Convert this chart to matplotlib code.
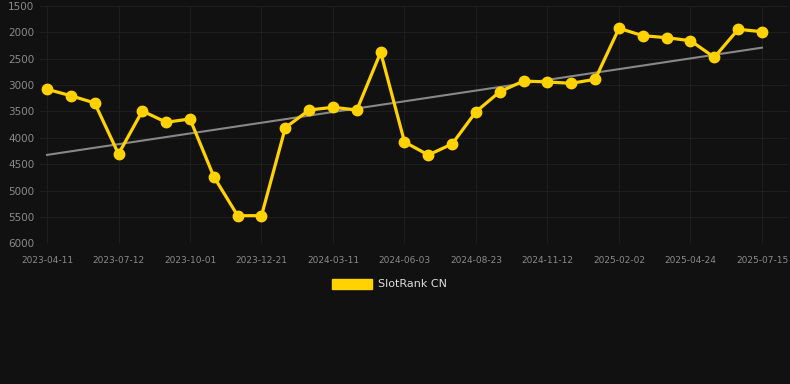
import numpy as np
import matplotlib
matplotlib.use('Agg')
import matplotlib.pyplot as plt
from matplotlib.patches import Patch

# data (rank, lower is better)
dates = ['2023-04-11', '2023-05-12', '2023-06-11', '2023-07-12', '2023-08-08',
         '2023-09-04', '2023-10-01', '2023-10-28', '2023-11-24', '2023-12-21',
         '2024-01-17', '2024-02-13', '2024-03-11', '2024-04-08', '2024-05-06',
         '2024-06-03', '2024-06-30', '2024-07-27', '2024-08-23', '2024-09-19',
         '2024-10-16', '2024-11-12', '2024-12-09', '2025-01-06', '2025-02-02',
         '2025-02-28', '2025-03-28', '2025-04-24', '2025-05-21', '2025-06-17',
         '2025-07-15']
rank = [3079, 3201, 3339, 4306, 3491, 3705, 3642, 4737, 5476, 5476,
        3807, 3472, 3421, 3472, 2378, 4079, 4325, 4116, 3504, 3125,
        2922, 2941, 2966, 2890, 1923, 2063, 2101, 2158, 2473, 1942,
        1987]
series_name = 'SlotRank CN'
y_ticks = [1500, 2000, 2500, 3000, 3500, 4000, 4500, 5000, 5500, 6000]

bg = '#111111'
yellow = '#ffd200'

X = np.arange(len(rank))
coef = np.polyfit(X, rank, 1)
trend = np.polyval(coef, X)

fig = plt.figure(figsize=(7.9, 3.84), dpi=100, facecolor=bg)
ax = fig.add_axes([40/790, 1 - 243.3/384, 748/790, 237.3/384])
ax.set_facecolor(bg)

ax.plot(X, trend, color='#888888', linewidth=1.5, zorder=2)
ax.plot(X, rank, color=yellow, linewidth=2.3, marker='o', markersize=7.5, zorder=3)

ax.set_ylim(6000, 1500)
ax.set_yticks(y_ticks)
ax.set_xlim(-7/23.83, 30 + 26/23.83)
ax.set_xticks(X[::3])
ax.set_xticklabels(dates[::3])

ax.grid(True, color='#1e1e1e', linewidth=0.8)
ax.set_axisbelow(True)
for s in ax.spines.values():
    s.set_visible(False)
ax.tick_params(axis='y', length=0, pad=4, labelsize=7.5, labelcolor='#8a8a8a')
ax.tick_params(axis='x', length=0, pad=9, labelsize=6.5, labelcolor='#8a8a8a')

leg = fig.legend(handles=[Patch(color=yellow, label=series_name)],
                 loc='center', bbox_to_anchor=(0.493, 1 - 284/384),
                 frameon=False, fontsize=8, handlelength=3.6, handleheight=1.05,
                 handletextpad=0.55, labelcolor='#dddddd')

fig.savefig('out.png', dpi=100, facecolor=bg)
